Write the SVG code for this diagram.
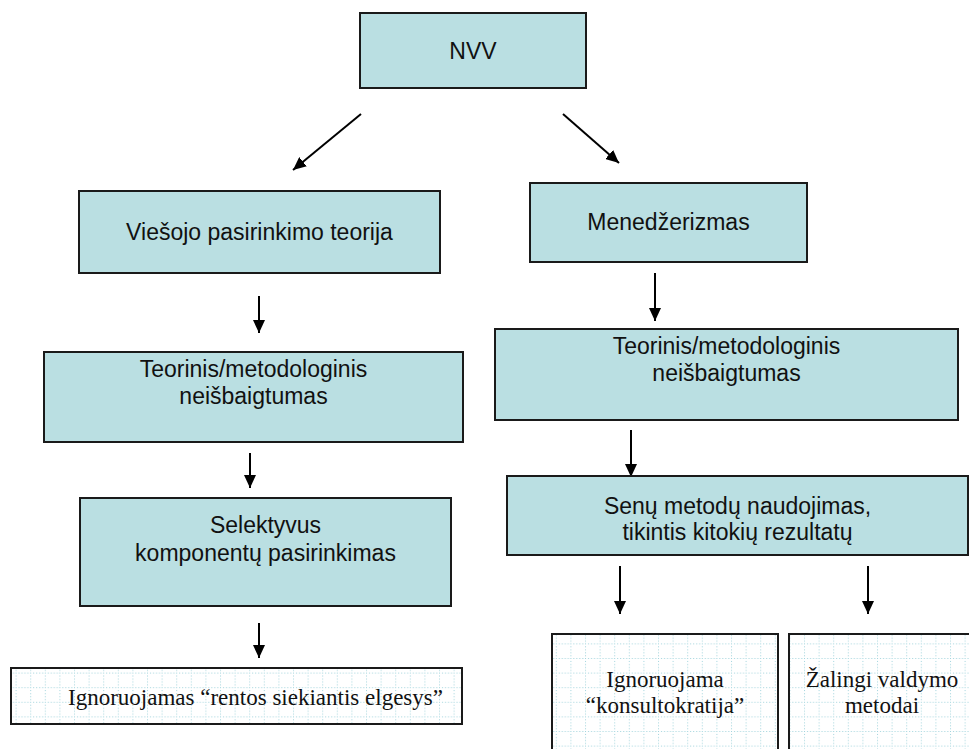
<svg xmlns="http://www.w3.org/2000/svg" width="969" height="749" viewBox="0 0 969 749">
<style>
.box{fill:#badfe2;stroke:#1a1a1a;stroke-width:2}
.gbox{fill:url(#grid);stroke:#1a1a1a;stroke-width:2}
.t{font-family:"Liberation Sans",Arial,sans-serif;font-size:23px;fill:#111;text-anchor:middle}
.s{font-family:"Liberation Serif","Times New Roman",serif;font-size:23px;fill:#111;text-anchor:middle}
.c{stroke:#000;stroke-width:2;fill:none;marker-end:url(#ah)}
</style>
<defs>
<marker id="ah" markerUnits="userSpaceOnUse" markerWidth="13" markerHeight="12" refX="13" refY="6" orient="auto">
<path d="M0,0 L13,6 L0,12 z" fill="#000"/>
</marker>
<pattern id="grid" patternUnits="userSpaceOnUse" width="14.6" height="14.6" x="1" y="1">
<rect width="14.6" height="14.6" fill="#fff"/>
<path d="M0,0.5 H14.6 M0.5,0 V14.6" stroke="#9fd3dc" stroke-width="1" stroke-dasharray="1,2" fill="none"/>
</pattern>
</defs>
<g id="connectors">
<line class="c" x1="361" y1="114" x2="293" y2="170"/>
<line class="c" x1="563" y1="114" x2="619" y2="163"/>
<line class="c" x1="259" y1="296" x2="259" y2="333"/>
<line class="c" x1="655" y1="273" x2="655" y2="321"/>
<line class="c" x1="250" y1="453" x2="250" y2="488"/>
<line class="c" x1="631" y1="430" x2="631" y2="477"/>
<line class="c" x1="259" y1="623" x2="259" y2="658"/>
<line class="c" x1="620" y1="566" x2="620" y2="614"/>
<line class="c" x1="868" y1="566" x2="868" y2="614"/>
</g>
<g id="nvv">
<rect class="box" x="360" y="13" width="226" height="75"/>
<text class="t" x="473" y="59">NVV</text>
</g>
<g id="viesojo">
<rect class="box" x="79" y="191" width="361" height="82"/>
<text class="t" x="259.5" y="240">Viešojo pasirinkimo teorija</text>
</g>
<g id="menedzerizmas">
<rect class="box" x="530" y="183" width="277" height="79"/>
<text class="t" x="668.5" y="230">Menedžerizmas</text>
</g>
<g id="teorinis-left">
<rect class="box" x="44" y="352" width="419" height="90"/>
<text class="t" x="253.5" y="377">Teorinis/metodologinis</text>
<text class="t" x="253.5" y="404">neišbaigtumas</text>
</g>
<g id="teorinis-right">
<rect class="box" x="495" y="329" width="463" height="91"/>
<text class="t" x="726.5" y="354">Teorinis/metodologinis</text>
<text class="t" x="726.5" y="381">neišbaigtumas</text>
</g>
<g id="selektyvus">
<rect class="box" x="80" y="498" width="371" height="108"/>
<text class="t" x="265.5" y="533">Selektyvus</text>
<text class="t" x="265.5" y="561">komponentų pasirinkimas</text>
</g>
<g id="senu">
<rect class="box" x="507" y="476" width="461" height="79"/>
<text class="t" x="737.5" y="514">Senų metodų naudojimas,</text>
<text class="t" x="737.5" y="540">tikintis kitokių rezultatų</text>
</g>
<g id="rentos">
<rect class="gbox" x="11" y="668" width="451" height="56"/>
<text class="s" x="255.5" y="705">Ignoruojamas “rentos siekiantis elgesys”</text>
</g>
<g id="konsultokratija">
<rect class="gbox" x="552" y="634" width="226" height="130"/>
<text class="s" x="665" y="687">Ignoruojama</text>
<text class="s" x="665" y="713">“konsultokratija”</text>
</g>
<g id="zalingi">
<rect class="gbox" x="789" y="634" width="190" height="130"/>
<text class="s" x="882" y="687">Žalingi valdymo</text>
<text class="s" x="882" y="713">metodai</text>
</g>
</svg>
